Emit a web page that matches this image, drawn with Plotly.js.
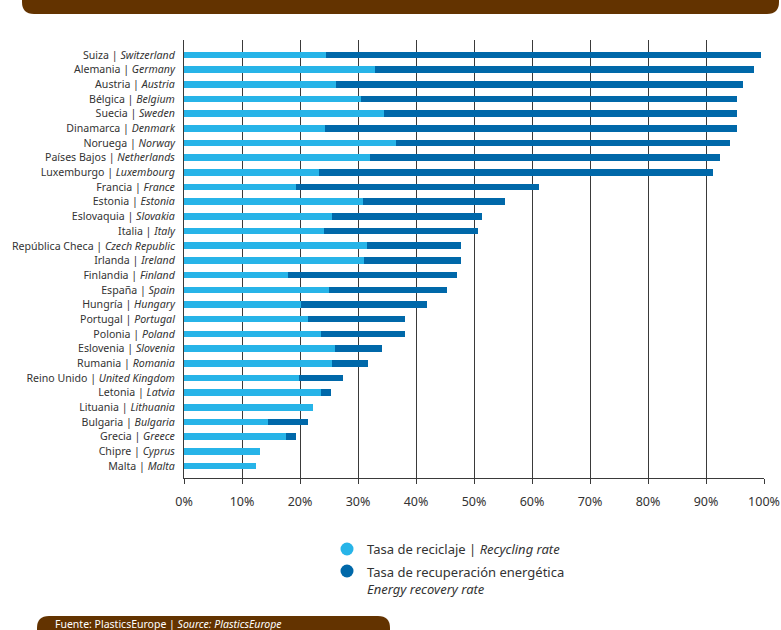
<!DOCTYPE html>
<html>
<head>
<meta charset="utf-8">
<script src="https://cdn.plot.ly/plotly-3.0.1.min.js"></script>
<style>html,body{margin:0;padding:0;background:#fff;}#chart{width:781px;height:630px;}</style>
</head>
<body>
<div id="chart"></div>
<script>
var countriesEs = ["Suiza","Alemania","Austria","Bélgica","Suecia","Dinamarca","Noruega","Países Bajos","Luxemburgo","Francia","Estonia","Eslovaquia","Italia","República Checa","Irlanda","Finlandia","España","Hungría","Portugal","Polonia","Eslovenia","Rumania","Reino Unido","Letonia","Lituania","Bulgaria","Grecia","Chipre","Malta"];
var countriesEn = ["Switzerland","Germany","Austria","Belgium","Sweden","Denmark","Norway","Netherlands","Luxembourg","France","Estonia","Slovakia","Italy","Czech Republic","Ireland","Finland","Spain","Hungary","Portugal","Poland","Slovenia","Romania","United Kingdom","Latvia","Lithuania","Bulgaria","Greece","Cyprus","Malta"];
var recyclingRate = [24.5,32.9,26.2,30.5,34.5,24.3,36.6,32.1,23.3,19.3,30.9,25.5,24.1,31.6,31.0,17.9,25.0,20.2,21.4,23.6,26.0,25.5,19.8,23.6,22.2,14.5,17.6,13.1,12.4];
var energyRecoveryRate = [75.0,65.4,70.2,64.8,60.8,71.0,57.5,60.3,67.9,41.9,24.4,25.9,26.6,16.2,16.8,29.2,20.4,21.7,16.7,14.5,8.1,6.2,7.6,1.7,0,6.9,1.7,0,0];
var xTickVals = [0,10,20,30,40,50,60,70,80,90,100];
var xTickText = ["0%","10%","20%","30%","40%","50%","60%","70%","80%","90%","100%"];
var legendRecycling = "Tasa de reciclaje | <i>Recycling rate</i>";
var legendEnergy = "Tasa de recuperación energética<br><i>Energy recovery rate</i>";
var sourceText = "Fuente: PlasticsEurope | <i>Source: PlasticsEurope</i>";

var LIGHT = "#27b4e8", DARK = "#0068a9", BROWN = "#633300";
var idx = countriesEs.map(function(_, i){ return i; });
var labels = countriesEs.map(function(c, i){ return c + " | <i>" + countriesEn[i] + "</i>"; });

var traces = [
  {type:"bar", orientation:"h", x:recyclingRate, y:idx, marker:{color:LIGHT}, name:"Tasa de reciclaje", hoverinfo:"x"},
  {type:"bar", orientation:"h", x:energyRecoveryRate, y:idx, marker:{color:DARK}, name:"Tasa de recuperación energética", hoverinfo:"x"}
];

// pixel -> paper helpers (plot area: x 184..764, y 40..478)
function px(p){ return (p-184)/580; }
function py(q){ return (478-q)/438; }

var hdrL = px(22), hdrR = px(779), hdrT = py(-2), hdrB = py(14), rx = 12/580, ry = 12/438;
var ftL = px(37), ftR = px(390), ftT = py(616), ftB = py(640);

var layout = {
  width:781, height:630,
  margin:{l:184, r:17, t:40, b:152},
  paper_bgcolor:"#fff", plot_bgcolor:"#fff",
  barmode:"stack", bargap:0.55,
  showlegend:false,
  font:{family:"Noto Sans, sans-serif", color:"#333"},
  xaxis:{range:[0,100], tickvals:xTickVals, ticktext:xTickText, showgrid:true, gridcolor:"#3a3a3a", gridwidth:1,
         zeroline:false, showline:true, linecolor:"#3a3a3a", linewidth:1, ticks:"outside", ticklen:5, tickcolor:"#3a3a3a",
         tickfont:{size:12.5, color:"#333"}, ticklabelstandoff:7, fixedrange:true},
  yaxis:{type:"linear", range:[28.82,-1.02], tickvals:idx, ticktext:labels, showgrid:false, zeroline:false,
         showline:true, linecolor:"#3a3a3a", linewidth:1, ticks:"", tickfont:{size:10.6, color:"#333"}, ticklabelstandoff:6, fixedrange:true},
  shapes:[
    {type:"path", xref:"paper", yref:"paper", line:{width:0}, fillcolor:BROWN, layer:"above",
     path:"M "+hdrL+","+hdrT+" L "+hdrL+","+(hdrB+ry)+" Q "+hdrL+","+hdrB+" "+(hdrL+rx)+","+hdrB+" L "+(hdrR-rx)+","+hdrB+" Q "+hdrR+","+hdrB+" "+hdrR+","+(hdrB+ry)+" L "+hdrR+","+hdrT+" Z"},
    {type:"path", xref:"paper", yref:"paper", line:{width:0}, fillcolor:BROWN, layer:"above",
     path:"M "+ftL+","+ftB+" L "+ftL+","+(ftT-ry)+" Q "+ftL+","+ftT+" "+(ftL+rx)+","+ftT+" L "+(ftR-rx)+","+ftT+" Q "+ftR+","+ftT+" "+ftR+","+(ftT-ry)+" L "+ftR+","+ftB+" Z"},
    {type:"circle", xref:"paper", yref:"paper", xsizemode:"pixel", ysizemode:"pixel", xanchor:px(347), yanchor:py(549),
     x0:-6.5, x1:6.5, y0:-6.5, y1:6.5, fillcolor:LIGHT, line:{width:0}},
    {type:"circle", xref:"paper", yref:"paper", xsizemode:"pixel", ysizemode:"pixel", xanchor:px(347), yanchor:py(571),
     x0:-6.5, x1:6.5, y0:-6.5, y1:6.5, fillcolor:DARK, line:{width:0}}
  ],
  annotations:[
    {xref:"paper", yref:"paper", x:px(365), y:py(549), xanchor:"left", yanchor:"middle", showarrow:false,
     text:legendRecycling, font:{size:13, color:"#333"}},
    {xref:"paper", yref:"paper", x:px(365), y:py(561), xanchor:"left", yanchor:"top", showarrow:false, align:"left",
     text:legendEnergy, font:{size:13, color:"#333"}},
    {xref:"paper", yref:"paper", x:px(53), y:py(623.5), xanchor:"left", yanchor:"middle", showarrow:false, align:"left",
     text:sourceText, font:{size:10.5, color:"#fff"}}
  ]
};

Plotly.newPlot("chart", traces, layout, {displayModeBar:false, staticPlot:true});
</script>
</body>
</html>
